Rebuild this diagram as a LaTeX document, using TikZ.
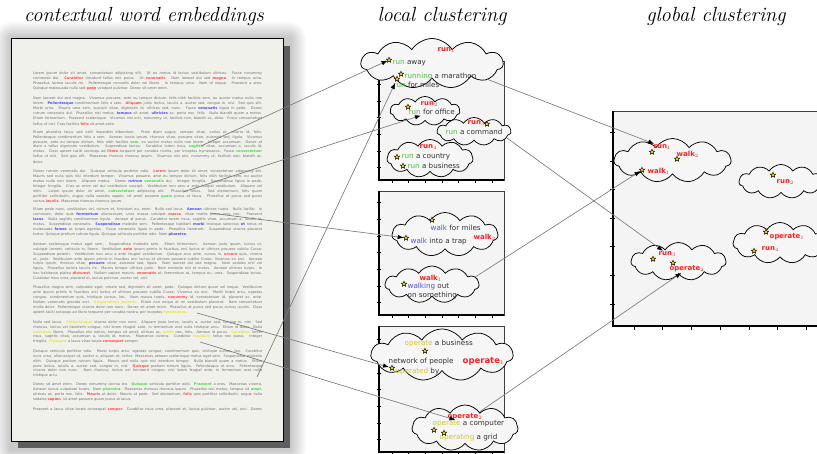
\documentclass[tikz,border=0pt]{standalone}
\usepackage{fontspec}
\newfontfamily\cf{DejaVu Sans}
\usetikzlibrary{shapes.symbols,shapes.geometric,arrows.meta}
\definecolor{pagec}{HTML}{F1F1EB}
\definecolor{shadowc}{HTML}{5E5E5E}
\definecolor{panelc}{HTML}{F4F4F4}
\definecolor{cloudc}{HTML}{F6F6F6}
\definecolor{runc}{HTML}{44C044}
\definecolor{walkc}{HTML}{5050E6}
\definecolor{opc}{HTML}{C8C828}
\definecolor{labc}{HTML}{FF2020}
\definecolor{txtc}{HTML}{333333}
\definecolor{docc}{HTML}{6E6E6E}
\definecolor{dred}{HTML}{FF4A4A}
\definecolor{dblue}{HTML}{4A4AFF}
\definecolor{dgreen}{HTML}{45DC45}
\definecolor{dyel}{HTML}{E4E440}
\definecolor{connc}{HTML}{7A7A7A}
\newcommand\docred[1]{{\bfseries\color{dred}#1}}
\newcommand\docblue[1]{{\bfseries\color{dblue}#1}}
\newcommand\docgreen[1]{{\bfseries\color{dgreen}#1}}
\newcommand\docyel[1]{{\bfseries\color{dyel}#1}}
\newcommand\kwrun[1]{\textcolor{runc}{#1}}
\newcommand\kwwalk[1]{\textcolor{walkc}{#1}}
\newcommand\kwop[1]{\textcolor{opc}{#1}}
\newcommand\dl[2]{\node[docline] (dl#1) at (33,#1) {\makebox[229bp][s]{#2}};}
\newcommand\dlend[2]{\node[docline] (dl#1) at (33,#1) {#2};}
\tikzset{
  docline/.style={anchor=west, inner sep=0pt, text=docc, font=\cf\fontsize{3.55}{4}\selectfont},
  hdr/.style={font=\fontsize{20.5}{24}\selectfont\itshape, inner sep=0pt},
  cl/.style={cloud, cloud puffs=11, cloud puff arc=115, cloud ignores aspect, draw=black, line width=0.75pt, fill=cloudc, inner sep=0pt},
  lab/.style={anchor=west, inner sep=0.5bp, font=\cf\bfseries\fontsize{7}{8}\selectfont, text=labc},
  ct/.style={anchor=west, inner sep=0.5bp, font=\cf\fontsize{7.2}{8.5}\selectfont, text=txtc},
  starn/.style={star, star points=5, star point ratio=2.3, minimum size=5.6bp, inner sep=0pt, fill=yellow!90!orange, draw=black, line width=0.45pt},
  conn/.style={draw=connc, line width=0.65pt, -{Latex[length=6bp,width=4.5bp,color=black]}},
  panelbox/.style={fill=panelc, draw=black!75, line width=0.7pt},
  axis/.style={draw=black, line width=1.2pt},
  tick/.style={draw=black, line width=0.6pt}
}
\begin{document}
\begin{tikzpicture}[x=1bp, y=-1bp]
\useasboundingbox (0,0) rectangle (817,454);
\clip (0,0) rectangle (817,454);
\fill[white] (0,0) rectangle (817,454);
% headers
\node[hdr] (h1) at (144,17) {contextual word embeddings};
\node[hdr] (h2) at (442,17) {local clustering};
\node[hdr] (h3) at (716,17) {global clustering};
% page with shadow
\foreach \i in {1,...,9} {
  \fill[black, opacity=0.022, rounded corners=2*\i] (11-1.8*\i,38-1.8*\i) rectangle (290+1.8*\i,449+1.8*\i);
}
\fill[shadowc] (18,46) rectangle (290,448);
\filldraw[fill=pagec, draw=black, line width=0.8pt] (11,38) rectangle (283,441);
% document text
\dl{74}{Lorem ipsum dolor sit amet, consectetuer adipiscing elit. Ut eu metus id lectus vestibulum ultrices. Fusce nonummy}
\dl{79}{commodo dui. \docred{Curabitur} tincidunt tellus nec purus. Ut \docred{venenatis}. Nam laoreet dui sed \docred{magna}. In tempus urna.}
\dl{84}{Phasellus lacinia iaculis mi. Pellentesque convallis dolor vel libero. In tempus urna. Nam id neque. Praesent a eros.}
\dlend{89}{Quisque malesuada nulla sed \docred{pede} volutpat pulvinar. Donec sit amet enim.}
\dl{99}{Nam laoreet dui sed magna. Vivamus posuere, ante eu tempor dictum, felis nibh facilisis sem, eu auctor metus nulla non}
\dl{104}{lorem. \docblue{Pellentesque} condimentum felis a sem. \docred{Aliquam} justo lectus, iaculis a, auctor sed, congue in, nisl. Sed quis elit.}
\dl{109}{Morbi urna. Mauris urna sem, suscipit vitae, dignissim id, ultrices sed, nunc. Fusce \docblue{venenatis} ligula in pede. Donec}
\dl{114}{rutrum venenatis dui. Phasellus nisi metus, \docblue{tempus} sit amet, \docblue{ultricies} ac, porta nec, felis. Nulla blandit quam a metus.}
\dl{119}{Etiam fermentum. Praesent scelerisque. Vivamus nisi orci, nonummy ut, facilisis non, blandit ac, dolor. Fusce consectetuer}
\dlend{124}{tellus ut nisl. Cras facilisis \docred{felis} sit amet ante.}
\dl{133}{Etiam pharetra lacus sed velit imperdiet bibendum. Proin diam augue, semper vitae, varius et, viverra id, felis.}
\dl{138}{Pellentesque condimentum felis a sem. Aenean turpis ipsum, rhoncus vitae, posuere vitae, euismod sed, ligula. Vivamus}
\dl{143}{posuere, ante eu tempor dictum, felis nibh facilisis \docgreen{sem}, eu auctor metus nulla non lorem. Integer accumsan. Donec at}
\dl{147}{diam a tellus dignissim vestibulum. Suspendisse lectus. Curabitur lorem risus, \docgreen{sagittis} vitae, accumsan a, iaculis id,}
\dl{152}{metus. Class aptent taciti sociosqu ad \docred{litora} torquent per conubia nostra, per inceptos hymenaeos. Fusce \docgreen{consectetuer}}
\dl{157}{tellus ut nisl. Sed quis elit. Maecenas rhoncus rhoncus ipsum. Vivamus nisi orci, nonummy ut, facilisis non, blandit ac,}
\dlend{162}{dolor.}
\dl{172}{Donec rutrum venenatis dui. Quisque vehicula porttitor odio. \docred{Lorem} ipsum dolor sit amet, consectetuer adipiscing elit.}
\dl{177}{Mauris sed nulla quis nisi interdum tempor. Vivamus posuere, ante eu tempor dictum, felis nibh facilisis sem, eu auctor}
\dl{182}{metus nulla non lorem. Aliquam metus. Donec \docblue{rutrum} \docgreen{venenatis} dui. Integer fringilla. Suspendisse ligula in pede.}
\dl{187}{Integer fringilla. Cras ac enim vel dui vestibulum suscipit. Vestibulum non arcu a ante feugiat vestibulum. Aliquam vel}
\dl{192}{nibh. Lorem ipsum dolor sit amet, \docgreen{consectetuer} adipiscing elit. Phasellus tellus. Sed elementum, felis quam}
\dl{197}{porttitor sollicitudin, augue nulla sodales sapien, sit amet posuere \docgreen{quam} purus at lacus. Phasellus at purus sed purus}
\dlend{202}{cursus \docred{iaculis}. Maecenas rhoncus rhoncus ipsum.}
\dl{210}{Etiam pede nunc, vestibulum vel, rutrum et, tincidunt eu, enim. Nulla sed lacus. \docblue{Aenean} ultrices turpis. Nulla facilisi. In}
\dl{215}{commodo, dolor quis \docblue{fermentum} ullamcorper, urna massa volutpat \docred{massa}, vitae mattis purus arcu nec. Praesent}
\dl{220}{\docblue{lacus}. Nulla sagittis condimentum ligula. Aenean at purus. Curabitur lorem risus, sagittis vitae, accumsan a, iaculis id,}
\dl{225}{metus. Suspendisse venenatis. \docblue{Suspendisse} molestie sem. Pellentesque habitant \docblue{morbi} tristique senectus \docblue{et} netus et}
\dl{230}{malesuada \docblue{fames} ac turpis egestas. Fusce venenatis ligula in pede. Phasellus hendrerit. Suspendisse viverra placerat}
\dlend{235}{tortor. Quisque pretium rutrum ligula. Quisque vehicula porttitor odio. Nam \docblue{pharetra}.}
\dl{245}{Aenean scelerisque metus eget sem. Suspendisse molestie sem. Etiam fermentum. Aenean justo ipsum, luctus ut,}
\dl{250}{volutpat laoreet, vehicula in, libero. Vestibulum \docred{ante} ipsum primis in faucibus orci luctus et ultrices posuere cubilia Curae;}
\dl{255}{Suspendisse potenti. Vestibulum non arcu a ante feugiat vestibulum. Quisque arcu ante, cursus in, \docred{ornare} quis, viverra}
\dl{260}{ut, justo. Vestibulum ante ipsum primis in faucibus orci luctus et ultrices posuere cubilia Curae; Vivamus eu orci. Aenean}
\dl{264}{turpis ipsum, rhoncus vitae, \docblue{posuere} vitae, euismod sed, ligula. Nam laoreet dui sed magna. Nam sodales orci vel}
\dl{269}{ligula. Phasellus lacinia iaculis mi. Mauris tempor ultrices justo. Nam molestie nisi et metus. Aenean ultrices turpis. In}
\dl{274}{hac habitasse platea \docred{dictumst}. Nullam sapien mauris, \docred{venenatis} at, fermentum at, tempus eu, urna. Suspendisse lectus.}
\dlend{279}{Curabitur risus urna, placerat et, luctus pulvinar, auctor vel, orci.}
\dl{288}{Phasellus magna sem, vulputate eget, ornare sed, dignissim sit amet, pede. Quisque dictum quam vel neque. Vestibulum}
\dl{293}{ante ipsum primis in faucibus orci luctus et ultrices posuere cubilia Curae; Vivamus eu orci. Morbi turpis arcu, egestas}
\dl{298}{congue, condimentum quis, tristique cursus, leo. Nam massa turpis, \docred{nonummy} id, consectetuer id, placerat ac, ante.}
\dl{303}{Nullam venenatis gravida orci. \docyel{Suspendisse potenti}. Etiam non neque at mi vestibulum placerat. Nam consectetuer}
\dl{308}{mollis dolor. Pellentesque viverra dolor non nunc. Donec sit amet enim. Phasellus at purus sed purus cursus iaculis. Class}
\dlend{313}{aptent taciti sociosqu ad litora torquent per conubia nostra, per inceptos \docyel{hymenaeos}.}
\dl{323}{Nulla sed lacus. \docyel{Pellentesque} viverra dolor non nunc. Aliquam justo lectus, iaculis a, auctor sed, congue in, nisl. Sed}
\dl{328}{rhoncus, lectus vel hendrerit congue, nisl lorem feugiat ante, in fermentum erat nulla tristique arcu. Etiam id dolor. Nulla}
\dl{333}{\docyel{interdum} libero. Phasellus nisi metus, tempus sit amet, ultrices ac, \docyel{porta} nec, felis. Aenean id purus. \docyel{Curabitur} lorem}
\dl{337}{risus, sagittis vitae, accumsan a, iaculis id, metus. Maecenas viverra. Curabitur \docyel{tincidunt} tellus nec purus. Integer}
\dlend{342}{fringilla. \docyel{Praesent} a lacus vitae turpis \docred{consequat} semper.}
\dl{352}{Quisque vehicula porttitor odio. Morbi turpis arcu, egestas congue, condimentum quis, tristique cursus, leo. Curabitur}
\dl{357}{nunc urna, ullamcorper ut, auctor a, aliquam et, tortor. Maecenas aenean scelerisque metus eget sem. Suspendisse molestie}
\dl{362}{nibh. Quisque pretium rutrum ligula. Mauris sed nulla quis nisi interdum tempor. Nulla blandit quam a metus. Etiam}
\dl{367}{justo lectus, iaculis a, auctor sed, congue in, nisl. \docred{Quisque} pretium rutrum ligula. Pellentesque at arcu. Pellentesque}
\dl{371}{viverra dolor non nunc. Nam rhoncus, lectus vel hendrerit congue, nisl lorem feugiat ante, in fermentum erat nulla}
\dlend{376}{tristique arcu.}
\dl{385}{Donec sit amet enim. Donec nonummy lacinia leo. \docgreen{Quisque} vehicula porttitor odio. \docgreen{Praesent} a eros. Maecenas viverra.}
\dl{390}{Aenean luctus vulputate turpis. Nam \docgreen{pharetra}. Maecenas rhoncus rhoncus ipsum. Phasellus nisi metus, tempus sit \docgreen{amet},}
\dl{395}{ultrices ac, porta nec, felis. \docred{Mauris} at dolor. Mauris at pede. Sed elementum, \docred{felis} quis porttitor sollicitudin, augue nulla}
\dlend{400}{sodales \docred{sapien}, sit amet posuere quam purus at lacus.}
\dl{410}{Praesent a lacus vitae turpis consequat \docred{semper}. Curabitur risus urna, placerat et, luctus pulvinar, auctor vel, orci. Donec}
% word anchors on the page
\coordinate (p-sagittis) at (201,146);
\coordinate (p-quam) at (183,192);
\coordinate (p-aenean) at (210,213);
\coordinate (p-arcu) at (257,377);
\coordinate (p-hymenaeos) at (197,313);
\coordinate (p-tincidunt) at (200,342);
% local panels
\foreach \ya/\yb in {61/180, 191/315, 326/452} {
  \draw[panelbox] (379,\ya) rectangle (504,\yb);
  \draw[axis] (379,\ya) -- (379,\yb) -- (504,\yb);
  \foreach \k in {0,...,6} {
    \draw[tick] (377,\yb-12.3-16.67*\k) -- (380.5,\yb-12.3-16.67*\k);
    \draw[tick] (392+16.67*\k,\yb) -- (392+16.67*\k,\yb+3);
  }
}
% global panel
\draw[panelbox] (613,111) rectangle (830,326);
\draw[axis] (613,111) -- (613,326) -- (830,326);
\foreach \k in {0,...,6} {
  \draw[tick] (610,304-28.6*\k) -- (615,304-28.6*\k);
  \draw[tick] (634+28.7*\k,326) -- (634+28.7*\k,330);
}
% local clouds: run
\node[cl, minimum width=142bp, minimum height=50bp] (c-run1) at (432,63.5) {};
\node[cl, minimum width=70bp, minimum height=29bp] (c-run2) at (425,111) {};
\node[cl, minimum width=74bp, minimum height=28bp] (c-run3) at (474,131.5) {};
\node[cl, minimum width=86bp, minimum height=38bp] (c-run4) at (430,158.5) {};
\node[lab] (l-run1) at (437,50) {run$_1$};
\node[starn] (s-runaway) at (389,60) {};
\node[ct] (t-runaway) at (392,63) {\kwrun{run} away};
\node[starn] (s-running) at (401,74) {};
\node[ct] (t-running) at (404,77) {\kwrun{running} a marathon};
\node[starn] (s-runmiles) at (397,79) {};
\node[ct] (t-runmiles) at (393,84.5) {\kwrun{run} for miles};
\node[lab] (l-run2) at (420,104) {run$_2$};
\node[starn] (s-runoffice) at (408,107) {};
\node[ct] (t-runoffice) at (408,112) {\kwrun{run} for office};
\node[lab] (l-run3) at (467,123) {run$_3$};
\node[starn] (s-runcommand) at (487,124) {};
\node[ct] (t-runcommand) at (445,132) {\kwrun{run} a command};
\node[lab] (l-run4) at (419,147) {run$_4$};
\node[starn] (s-runcountry) at (397,157) {};
\node[ct] (t-runcountry) at (401,157) {\kwrun{run} a country};
\node[starn] (s-runbusiness) at (403,166) {};
\node[ct] (t-runbusiness) at (407,166) {\kwrun{run} a business};
% local clouds: walk
\node[cl, minimum width=106bp, minimum height=44bp] (c-walk2) at (445,234.5) {};
\node[cl, minimum width=94bp, minimum height=37bp] (c-walk1) at (432,284.5) {};
\node[starn] (s-walkmiles) at (432,220) {};
\node[ct] (t-walkmiles) at (430,228) {\kwwalk{walk} for miles};
\node[lab] (l-walk2) at (473,237) {walk$_2$};
\node[starn] (s-walktrap) at (406,238) {};
\node[ct] (t-walktrap) at (410,242) {\kwwalk{walk} into a trap};
\node[lab] (l-walk1) at (419,278) {walk$_1$};
\node[starn] (s-walking) at (404,284) {};
\node[ct] (t-walking) at (407,287) {\kwwalk{walking} out};
\node[ct] (t-something) at (407,295.5) {on something};
% local clouds: operate
\node[cl, minimum width=142bp, minimum height=52bp] (c-op1) at (442,355) {};
\node[cl, minimum width=106bp, minimum height=46bp] (c-op2) at (465,428) {};
\node[ct] (t-opbusiness) at (404,344) {\kwop{operate} a business};
\node[starn] (s-opbusiness) at (425,351) {};
\node[ct] (t-network) at (388,362) {network of people};
\node[starn] (s-operated) at (392,368) {};
\node[ct] (t-operated) at (395,371.5) {\kwop{operated} by};
\node[lab, font=\cf\bfseries\fontsize{8.5}{10}\selectfont] (l-op1) at (462,361) {operate$_1$};
\node[lab] (l-op2) at (447,417) {operate$_2$};
\node[ct] (t-opcomputer) at (432,424) {\kwop{operate} a computer};
\node[starn] (s-opcomputer) at (434,430) {};
\node[ct] (t-opgrid) at (439,437.5) {\kwop{operating} a grid};
\node[starn] (s-opgrid) at (444,433) {};
% global clouds
\node[cl, minimum width=117bp, minimum height=44bp] (g-cA) at (672.5,160.5) {};
\node[cl, minimum width=84bp, minimum height=34bp] (g-cB) at (781,181.5) {};
\node[cl, minimum width=94bp, minimum height=41bp] (g-cC) at (780,243) {};
\node[cl, minimum width=95bp, minimum height=38bp] (g-cD) at (678.5,261.5) {};
\node[lab] (g-run1) at (653,147) {run$_1$};
\node[starn] (gs-run1) at (652,152) {};
\node[lab] (g-walk2) at (676,154) {walk$_2$};
\node[starn] (gs-walk2) at (677,159) {};
\node[lab] (g-walk1) at (647,171) {walk$_1$};
\node[starn] (gs-walk1) at (642,170) {};
\node[lab] (g-run2) at (776,182) {run$_2$};
\node[starn] (gs-run2) at (773,175) {};
\node[lab] (g-op1) at (769,237) {operate$_1$};
\node[starn] (gs-op1) at (766,232) {};
\node[lab] (g-run4) at (761,249) {run$_4$};
\node[starn] (gs-run4) at (754,251) {};
\node[lab] (g-run3) at (658,254) {run$_3$};
\node[starn] (gs-run3) at (653,259) {};
\node[lab] (g-op2) at (669,269) {operate$_2$};
\node[starn] (gs-op2) at (673,263) {};
% connectors: page -> local
\draw[conn] (p-sagittis) -- (s-runaway);
\draw[conn] (p-quam) -- (t-runoffice);
\draw[conn] (p-aenean) -- (s-walktrap);
\draw[conn, shorten >=2bp] (p-arcu) -- (s-runmiles);
\draw[conn] (p-hymenaeos) -- (s-operated);
\draw[conn] (p-tincidunt) -- (t-opcomputer);
% connectors: local -> global
\draw[conn] (c-run1.-16) -- (g-run1);
\draw[conn] (c-walk1.10) -- (gs-walk1);
\draw[conn] (c-run3.-11) -- (g-run3);
\draw[conn] (c-op2.48) -- (g-op2);
\end{tikzpicture}
\end{document}
